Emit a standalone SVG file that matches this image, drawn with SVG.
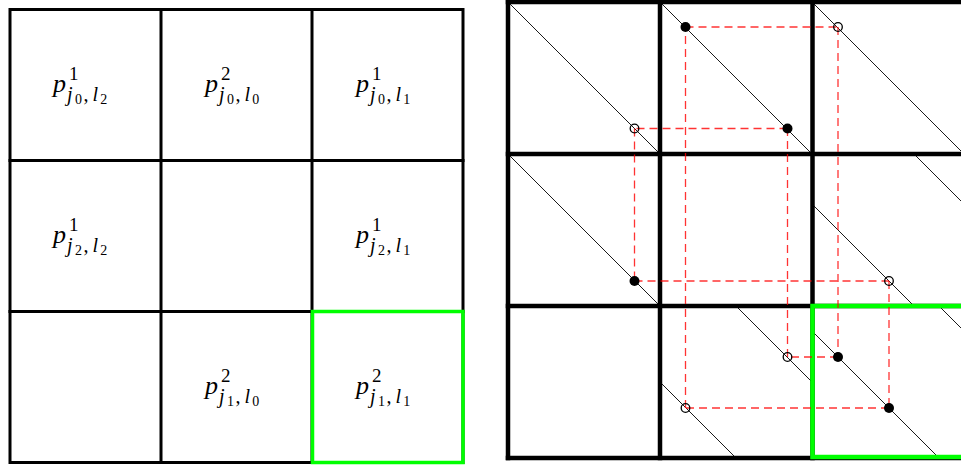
<svg xmlns="http://www.w3.org/2000/svg" width="961" height="465" viewBox="0 0 961 465">
<style>
.gl{stroke:#000;stroke-width:3;fill:none;stroke-linecap:square}
.gr{stroke:#000;stroke-width:4.5;fill:none;stroke-linecap:square}
.green{stroke:#00ff00;fill:none}
.dg{stroke:#000;stroke-width:0.9;fill:none}
.rd{stroke:#ff0000;stroke-opacity:0.8;stroke-width:1.3;stroke-dasharray:8 5;fill:none}
.f{fill:#000}
.o{fill:none;stroke:#000;stroke-width:1.3}
text{font-family:"Liberation Serif","DejaVu Serif",serif;font-size:20px}
.p{font-style:italic;font-size:26px}
.s{font-size:19px;font-style:normal}
.i{font-style:italic}
.ss{font-size:14px;font-style:normal}
</style>
<rect width="961" height="465" fill="#fff"/>
<g id="left-grid">
<rect class="gl" x="10" y="9.5" width="453" height="453"/>
<line class="gl" x1="161" y1="9.5" x2="161" y2="462.5"/>
<line class="gl" x1="312" y1="9.5" x2="312" y2="462.5"/>
<line class="gl" x1="10" y1="160.5" x2="463" y2="160.5"/>
<line class="gl" x1="10" y1="311.5" x2="463" y2="311.5"/>
<rect class="green" stroke-width="3.5" x="312.5" y="311.5" width="150.5" height="151"/>
</g>
<g id="cell-00">
<text x="53" y="92"><tspan class="p">p</tspan><tspan class="s" x="69" y="80">1</tspan><tspan class="i" x="67" y="101">j</tspan><tspan class="ss" dx="2.5" y="104">0</tspan><tspan dx="1.5" y="101">,</tspan><tspan class="i" dx="4">l</tspan><tspan class="ss" dx="2" y="104">2</tspan></text>
</g>
<g id="cell-01">
<text x="205" y="92"><tspan class="p">p</tspan><tspan class="s" x="221" y="80">2</tspan><tspan class="i" x="219" y="101">j</tspan><tspan class="ss" dx="2.5" y="104">0</tspan><tspan dx="1.5" y="101">,</tspan><tspan class="i" dx="4">l</tspan><tspan class="ss" dx="2" y="104">0</tspan></text>
</g>
<g id="cell-02">
<text x="356" y="92"><tspan class="p">p</tspan><tspan class="s" x="372" y="80">1</tspan><tspan class="i" x="370" y="101">j</tspan><tspan class="ss" dx="2.5" y="104">0</tspan><tspan dx="1.5" y="101">,</tspan><tspan class="i" dx="4">l</tspan><tspan class="ss" dx="2" y="104">1</tspan></text>
</g>
<g id="cell-10">
<text x="53" y="243"><tspan class="p">p</tspan><tspan class="s" x="69" y="231">1</tspan><tspan class="i" x="67" y="252">j</tspan><tspan class="ss" dx="2.5" y="255">2</tspan><tspan dx="1.5" y="252">,</tspan><tspan class="i" dx="4">l</tspan><tspan class="ss" dx="2" y="255">2</tspan></text>
</g>
<g id="cell-12">
<text x="356" y="243"><tspan class="p">p</tspan><tspan class="s" x="372" y="231">1</tspan><tspan class="i" x="370" y="252">j</tspan><tspan class="ss" dx="2.5" y="255">2</tspan><tspan dx="1.5" y="252">,</tspan><tspan class="i" dx="4">l</tspan><tspan class="ss" dx="2" y="255">1</tspan></text>
</g>
<g id="cell-21">
<text x="205" y="394"><tspan class="p">p</tspan><tspan class="s" x="221" y="382">2</tspan><tspan class="i" x="219" y="403">j</tspan><tspan class="ss" dx="2.5" y="406">1</tspan><tspan dx="1.5" y="403">,</tspan><tspan class="i" dx="4">l</tspan><tspan class="ss" dx="2" y="406">0</tspan></text>
</g>
<g id="cell-22">
<text x="356" y="394"><tspan class="p">p</tspan><tspan class="s" x="372" y="382">2</tspan><tspan class="i" x="370" y="403">j</tspan><tspan class="ss" dx="2.5" y="406">1</tspan><tspan dx="1.5" y="403">,</tspan><tspan class="i" dx="4">l</tspan><tspan class="ss" dx="2" y="406">1</tspan></text>
</g>
<g id="right-diagonals">
<line class="dg" x1="508" y1="2" x2="660" y2="154"/>
<line class="dg" x1="660" y1="2" x2="812" y2="154"/>
<line class="dg" x1="812" y1="2" x2="964" y2="154"/>
<line class="dg" x1="508" y1="154" x2="660" y2="306"/>
<line class="dg" x1="812" y1="204" x2="914" y2="306"/>
<line class="dg" x1="914" y1="154" x2="964" y2="204"/>
<line class="dg" x1="660" y1="382" x2="736" y2="458"/>
<line class="dg" x1="736" y1="306" x2="812" y2="382"/>
<line class="dg" x1="812" y1="331" x2="939" y2="458"/>
<line class="dg" x1="939" y1="306" x2="964" y2="331"/>
</g>
<g id="right-grid">
<line class="gr" x1="508" y1="2" x2="964" y2="2"/>
<line class="gr" x1="508" y1="154" x2="964" y2="154"/>
<line class="gr" x1="508" y1="306" x2="964" y2="306"/>
<line class="gr" x1="508" y1="458" x2="964" y2="458"/>
<line class="gr" x1="508" y1="2" x2="508" y2="458"/>
<line class="gr" x1="660" y1="2" x2="660" y2="458"/>
<line class="gr" x1="812.5" y1="2" x2="812.5" y2="458"/>
<rect class="green" stroke-width="4.5" x="812.5" y="306" width="160" height="151"/>
</g>
<g id="connectors">
<line class="rd" x1="685.5" y1="27" x2="838" y2="27"/>
<line class="rd" x1="838" y1="27" x2="838" y2="357"/>
<line class="rd" x1="838" y1="357" x2="787.5" y2="357"/>
<line class="rd" x1="787.5" y1="357" x2="787.5" y2="128.5"/>
<line class="rd" x1="787.5" y1="128.5" x2="634.5" y2="128.5"/>
<line class="rd" x1="634.5" y1="128.5" x2="634.5" y2="281"/>
<line class="rd" x1="634.5" y1="281" x2="889" y2="281"/>
<line class="rd" x1="889" y1="281" x2="889" y2="408"/>
<line class="rd" x1="889" y1="408" x2="685.5" y2="408"/>
<line class="rd" x1="685.5" y1="408" x2="685.5" y2="27"/>
</g>
<g id="dots">
<circle class="f" cx="685.5" cy="27" r="5"/>
<circle class="f" cx="787.5" cy="128.5" r="5"/>
<circle class="f" cx="634.5" cy="281" r="5"/>
<circle class="f" cx="838" cy="357" r="5"/>
<circle class="f" cx="889" cy="408" r="5"/>
<circle class="o" cx="838" cy="27" r="4.3"/>
<circle class="o" cx="634.5" cy="128.5" r="4.3"/>
<circle class="o" cx="889" cy="281" r="4.3"/>
<circle class="o" cx="787.5" cy="357" r="4.3"/>
<circle class="o" cx="685.5" cy="408" r="4.3"/>
</g>
</svg>
